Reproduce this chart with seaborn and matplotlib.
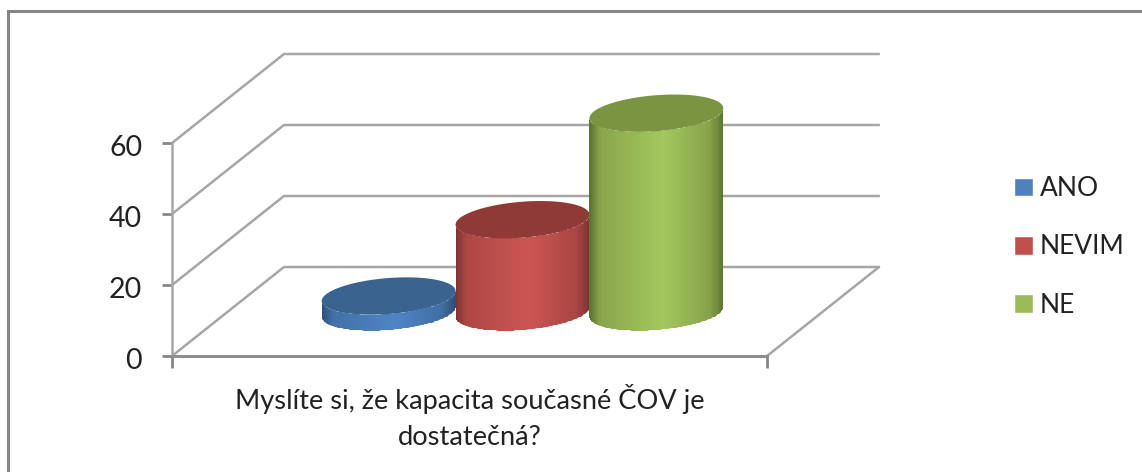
import numpy as np
import pandas as pd
import seaborn as sns
import matplotlib.pyplot as plt
from matplotlib.colors import LinearSegmentedColormap
from matplotlib.patches import PathPatch, Rectangle
from matplotlib.path import Path
from matplotlib.transforms import ScaledTranslation

question = 'Myslíte si, že kapacita současné ČOV je\ndostatečná?'
answers = ['ANO', 'NEVIM', 'NE']
counts = [4.5, 26, 56]
y_ticks = [0, 20, 40, 60]

palette = ['#4F81BD', '#C0504D', '#9BBB59']
tops = ['#3A6390', '#8F3A37', '#7A9442']
edges = ['#2F5078', '#7E3432', '#5F7530']
lights = ['#4F85C6', '#CC5552', '#A4C75E']

W, H = 1142, 472
L, R, B, T = 172, 767, 356, 143

sns.set_theme(style='white')
plt.rcParams['font.family'] = ['Lato', 'DejaVu Sans']

fig = plt.figure(figsize=(W / 100, H / 100), dpi=100)
ax = fig.add_axes([L / W, 1 - B / H, (R - L) / W, (B - T) / H])

df = pd.DataFrame({'q': [question] * 3, 'answer': answers, 'count': counts})
sns.barplot(data=df, x='q', y='count', hue='answer', hue_order=answers, palette=palette,
            width=0.675, gap=0, saturation=1, ax=ax)
ax.set_xlim(-0.5, 0.5)
ax.set_ylim(0, 60)

# depth of the fake 3d box, in data units
px_x = 1 / (R - L)
px_y = 60 / (B - T)
box_dx, box_dy = 112 * px_x, 89 * px_y
bar_dx, bar_dy = 53 * px_x, 44 * px_y

grid = '#A6A6A6'
for v in y_ticks:
    ax.plot([-0.5, -0.5 + box_dx, 0.5 + box_dx], [v, v + box_dy, v + box_dy], color=grid, lw=1.8,
            clip_on=False, zorder=1, solid_joinstyle='miter')
ax.plot([0.5, 0.5 + box_dx], [0, box_dy], color=grid, lw=1.8, clip_on=False, zorder=1)

# sheared ellipse: right side sits higher than the left
shear, minor = 5 * px_y, 18 * px_y
t = np.linspace(0, np.pi, 80)
shade = np.interp(np.linspace(0, 1, 120), [0, 0.08, 0.55, 0.9, 1], [0, 0.3, 0.5, 0.72, 1])


def rim(level, sign):
    return bar_dy + level + shear * np.cos(t) + sign * minor * np.sin(t)


for i, bar in enumerate(list(ax.patches)[:3]):
    bar.set_visible(False)
    x0, w, h = bar.get_x() + bar_dx, bar.get_width(), bar.get_height()
    ex = x0 + w / 2 + w / 2 * np.cos(t)

    body = np.vstack([np.column_stack([ex, rim(0, -1)]), np.column_stack([ex[::-1], rim(h, -1)[::-1]])])
    cmap = LinearSegmentedColormap.from_list('c', [edges[i], lights[i], edges[i]])
    mesh = ax.pcolormesh(np.linspace(x0, x0 + w, 121), [0, 60 + box_dy], shade.reshape(1, -1), cmap=cmap,
                         vmin=0, vmax=1, zorder=3 + i)
    clip = PathPatch(Path(body), transform=ax.transData, facecolor='none', edgecolor='none')
    ax.add_patch(clip)
    mesh.set_clip_path(clip)
    # the mesh keeps the axes box as clip too, and the cylinders stick out above it
    mesh.set_clip_box(fig.bbox)

    cap = np.vstack([np.column_stack([ex, rim(h, 1)]), np.column_stack([ex[::-1], rim(h, -1)[::-1]])])
    ax.add_patch(PathPatch(Path(cap), facecolor=tops[i], edgecolor='none', clip_on=False, zorder=3 + i))

ax.set_xlim(-0.5, 0.5)
ax.set_ylim(0, 60)
ax.set_xlabel('')
ax.set_ylabel('')
ax.set_yticks(y_ticks)
ax.set_xticks([-0.5, 0.5], labels=['', ''])
ax.tick_params(axis='y', left=True, length=7, width=2, color='#868686', labelsize=20.5, pad=14.5,
               labelcolor='#222222')
ax.tick_params(axis='x', bottom=True, length=8.5, width=2, color='#868686')
shift = ScaledTranslation(0, -2.5 / 100, fig.dpi_scale_trans)
for lab in ax.get_yticklabels():
    lab.set_transform(lab.get_transform() + shift)
ax.text(0, -8, question, ha='center', va='top', fontsize=19.6, color='#222222', linespacing=1.52,
        clip_on=False)
sns.despine(ax=ax, top=True, right=True)
ax.spines['left'].set_color(grid)
ax.spines['left'].set_linewidth(1.8)
ax.spines['bottom'].set_color('#8E8E8E')
ax.spines['bottom'].set_linewidth(2.2)
ax.patch.set_alpha(0)

handles, labels = ax.get_legend_handles_labels()
ax.legend(handles, labels, frameon=False, fontsize=19, labelcolor='#222222', loc='center left',
          bbox_to_anchor=(1001 / W, 1 - 247 / H), bbox_transform=fig.transFigure, borderpad=0,
          handlelength=0.72, handleheight=0.72, handletextpad=0.26, labelspacing=1.26)

# chart border: runs off the right and bottom of the picture
fig.add_artist(Rectangle((8 / W, -0.1), 1.1, 1.1 - 11 / H, transform=fig.transFigure,
                         facecolor='none', edgecolor='#868686', lw=2.2))

fig.savefig('out.png', dpi=100)
